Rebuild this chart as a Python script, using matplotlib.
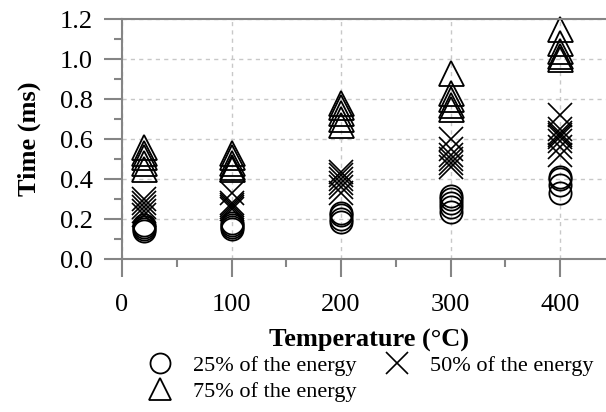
import matplotlib.pyplot as plt
import numpy as np

plt.rcParams['font.family'] = ['Liberation Serif', 'DejaVu Serif']

# 测试温度 (°C)
temps = [20, 100, 200, 300, 400]

# 各温度下达到能量百分比所需时间 (ms)
t25 = [[0.14, 0.15, 0.16, 0.17],
       [0.15, 0.16, 0.17, 0.18],
       [0.185, 0.20, 0.22, 0.23],
       [0.235, 0.26, 0.28, 0.30, 0.315],
       [0.33, 0.37, 0.40, 0.41]]
t50 = [[0.22, 0.24, 0.26, 0.28, 0.30],
       [0.25, 0.26, 0.27, 0.28, 0.33],
       [0.33, 0.36, 0.38, 0.40, 0.42, 0.435],
       [0.46, 0.48, 0.50, 0.52, 0.55, 0.60],
       [0.52, 0.56, 0.59, 0.61, 0.62, 0.63, 0.65, 0.72]]
t75 = [[0.45, 0.48, 0.51, 0.53, 0.56],
       [0.45, 0.46, 0.48, 0.51, 0.53],
       [0.67, 0.70, 0.73, 0.76, 0.78],
       [0.75, 0.77, 0.80, 0.83, 0.93],
       [1.00, 1.015, 1.04, 1.08, 1.15]]

labels = ['25% of the energy', '50% of the energy', '75% of the energy']

fig = plt.figure(figsize=(6.06, 4.12), dpi=100)
ax = fig.add_axes([122/606, 153/412, 484/606, 240/412])

def spread(groups):
    xs, ys = [], []
    for T, vals in zip(temps, groups):
        xs += [T]*len(vals)
        ys += vals
    return xs, ys

x1, y1 = spread(t25)
x2, y2 = spread(t50)
x3, y3 = spread(t75)
h1, = ax.plot(x1, y1, 'o', ms=16, mfc='none', mec='black', mew=1.3, label=labels[0])
h2, = ax.plot(x2, y2, 'x', ms=17, mec='black', mew=1.2, label=labels[1])
h3, = ax.plot(x3, y3, '^', ms=18, mfc='none', mec='black', mew=1.3, label=labels[2], clip_on=False)

ax.set_xlim(0, 442)
ax.set_ylim(0, 1.2)
ax.set_xticks([0, 100, 200, 300, 400])
ax.set_xticks(np.arange(50, 442, 100), minor=True)
ax.set_yticks(np.arange(0, 1.21, 0.2))
ax.set_yticks(np.arange(0.1, 1.2, 0.2), minor=True)
ax.yaxis.set_major_formatter(plt.FormatStrFormatter('%.1f'))

ax.grid(True, which='major', ls=(0, (3, 3)), color='#c8c8c8', lw=1)
ax.set_axisbelow(True)
for s in ['left', 'bottom', 'top']:
    ax.spines[s].set_color('#858585')
    ax.spines[s].set_linewidth(1.5)
ax.spines['right'].set_visible(False)
ax.tick_params(which='major', direction='out', length=13, width=1.5, color='#858585', labelsize=19)
ax.tick_params(axis='x', which='major', pad=12)
ax.tick_params(axis='y', which='major', pad=8)
ax.tick_params(which='minor', direction='out', length=6, width=1.5, color='#858585')

ax.set_xlabel('Temperature (°C)', fontsize=19, fontweight='bold')
ax.set_ylabel('Time (ms)', fontsize=19, fontweight='bold')
ax.xaxis.set_label_coords(0.51, -0.29)
ax.yaxis.set_label_coords(-0.168, 0.5)

# 图例放在坐标轴下方，两列
fig.legend([h1, h3, h2], [labels[0], labels[2], labels[1]], ncol=2, frameon=False,
           fontsize=16, loc='upper left', bbox_to_anchor=(0.2235, 0.1646),
           handletextpad=0.9, columnspacing=1.2, labelspacing=0.25, borderpad=0,
           handlelength=1.2, markerscale=0.9)

plt.savefig('out.png', dpi=100)
